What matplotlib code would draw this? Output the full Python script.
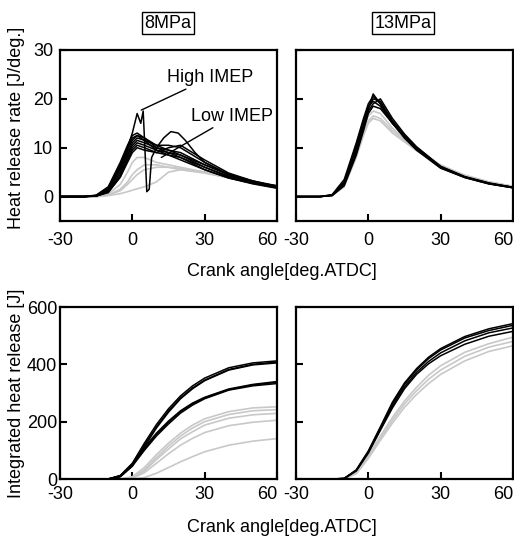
import matplotlib.pyplot as plt
import numpy as np

plt.rcParams['font.family'] = ['Liberation Sans', 'DejaVu Sans']
plt.rcParams['font.size'] = 13
plt.rcParams['axes.unicode_minus'] = False

# crank angle grids
ca_hrr = [-30, -20, -15, -10, -5, -2, 0, 2, 5, 10, 15, 20, 30, 40, 50, 60]
ca_ihr = [-30, -15, -10, -5, 0, 5, 10, 15, 20, 25, 30, 40, 50, 60]
xtick_vals = [-30, 0, 30, 60]
xtick_labels = ['-30', '0', '30', '60']

# 8MPa heat release rate
hrr8_black = [
    [0, 0, 0.2, 1.5, 6.0, 9.5, 11.5, 12.5, 12.0, 10.5, 9.5, 8.5, 6.0, 4.0, 2.8, 2.0],
    [0, 0, 0.3, 2.0, 7.0, 10.5, 12.5, 13.0, 12.0, 10.0, 9.0, 8.0, 5.5, 3.8, 2.7, 1.8],
    [0, 0, 0.2, 1.2, 5.0, 8.5, 10.5, 11.5, 11.0, 10.0, 9.5, 9.0, 6.5, 4.5, 3.0, 2.2],
    [0, 0, 0.1, 1.0, 4.5, 8.0, 10.0, 11.0, 10.5, 9.5, 9.0, 8.5, 6.5, 4.5, 3.2, 2.0],
    [0, 0, 0.2, 1.8, 6.5, 10.0, 12.0, 12.5, 11.5, 9.5, 8.5, 7.5, 5.5, 3.8, 2.6, 1.7],
    [0, 0, 0.1, 0.8, 4.0, 7.5, 9.5, 10.5, 10.0, 9.0, 8.5, 8.0, 6.0, 4.2, 3.0, 2.1],
    [0, 0, 0.2, 1.4, 5.5, 9.0, 11.0, 12.0, 11.5, 10.5, 10.5, 10.0, 7.0, 4.5, 3.0, 2.0],
    [0, 0, 0.1, 1.0, 4.0, 7.0, 9.0, 10.0, 9.5, 9.0, 10.0, 10.5, 7.5, 4.8, 3.2, 2.2],
]
hrr8_grey = [
    [0, 0, 0, 0.5, 2.5, 5.0, 7.0, 8.0, 8.0, 7.0, 6.5, 6.0, 5.0, 4.0, 3.0, 2.0],
    [0, 0, 0, 0.3, 1.5, 3.0, 4.5, 5.5, 6.5, 6.5, 6.0, 5.5, 4.8, 3.8, 2.8, 2.0],
    [0, 0, 0, 0.2, 0.6, 1.0, 1.3, 1.6, 2.0, 3.0, 5.0, 5.5, 5.0, 4.0, 3.0, 2.0],
    [0, 0, 0, 0.3, 1.2, 2.5, 3.5, 4.5, 5.5, 6.0, 6.0, 5.8, 5.0, 4.0, 3.0, 2.1],
]
ca_spike = [-30, -20, -15, -10, -5, -2, 0, 2, 3.5, 4.5, 5.2, 6, 7, 8, 10, 13, 16, 19, 22, 26, 30, 40, 50, 60]
hrr_spike = [0, 0, 0.2, 1.5, 6, 10, 13, 17, 15, 17.5, 10, 1, 1.5, 8, 10, 12, 13.3, 13, 11.5, 9, 7, 4.5, 3, 2]

# 13MPa heat release rate
hrr13_black = [
    [0, 0, 0.3, 3.0, 10.0, 15.0, 18.0, 20.0, 19.5, 15.5, 12.5, 10.0, 6.0, 4.0, 2.7, 1.9],
    [0, 0, 0.4, 3.5, 11.0, 16.0, 19.0, 20.5, 19.0, 15.0, 12.0, 9.5, 5.8, 3.9, 2.6, 1.8],
    [0, 0, 0.2, 2.5, 9.0, 14.0, 17.5, 19.0, 20.0, 16.0, 12.8, 10.2, 6.2, 4.1, 2.8, 1.9],
    [0, 0, 0.3, 3.0, 10.5, 15.5, 18.5, 19.5, 18.5, 15.0, 12.2, 9.8, 6.0, 4.0, 2.7, 1.8],
    [0, 0, 0.3, 2.8, 9.5, 14.5, 18.0, 21.0, 19.0, 15.5, 12.0, 9.6, 5.9, 3.9, 2.6, 1.8],
    [0, 0, 0.2, 2.2, 8.5, 13.5, 17.0, 18.5, 18.0, 15.0, 12.5, 10.0, 6.1, 4.0, 2.7, 1.9],
]
hrr13_grey = [
    [0, 0, 0.2, 2.5, 9.0, 13.0, 15.5, 16.5, 16.0, 13.5, 11.5, 9.5, 6.5, 4.3, 3.0, 2.1],
    [0, 0, 0.2, 2.0, 8.0, 12.5, 15.0, 16.0, 15.5, 13.0, 11.2, 9.4, 6.3, 4.4, 3.0, 2.1],
    [0, 0, 0.3, 2.8, 9.5, 14.0, 16.5, 17.5, 17.0, 14.0, 11.8, 9.8, 6.0, 4.2, 2.9, 2.0],
]

# 8MPa integrated heat release
ihr8_black = [
    [0, 0, 0, 12, 55, 125, 190, 245, 290, 325, 352, 388, 405, 412],
    [0, 0, 0, 10, 50, 118, 182, 238, 283, 318, 345, 382, 400, 408],
    [0, 0, 0, 8, 45, 112, 178, 233, 280, 315, 343, 380, 398, 405],
    [0, 0, 0, 10, 48, 105, 155, 198, 235, 262, 283, 312, 328, 337],
    [0, 0, 0, 12, 52, 110, 160, 202, 238, 265, 285, 314, 330, 340],
    [0, 0, 0, 8, 45, 100, 150, 192, 230, 258, 280, 310, 325, 333],
]
ihr8_grey = [
    [0, 0, 0, 0, 8, 40, 85, 125, 160, 188, 210, 235, 248, 252],
    [0, 0, 0, 0, 5, 32, 75, 115, 150, 178, 200, 225, 238, 242],
    [0, 0, 0, 0, 3, 28, 68, 105, 140, 165, 188, 212, 224, 229],
    [0, 0, 0, 0, 2, 22, 55, 88, 118, 142, 162, 186, 198, 205],
    [0, 0, 0, 0, 0, 5, 20, 40, 60, 78, 95, 118, 132, 141],
]

# 13MPa integrated heat release
ihr13_black = [
    [0, 0, 2, 32, 98, 182, 268, 335, 385, 425, 455, 497, 524, 542],
    [0, 0, 2, 30, 95, 178, 262, 330, 380, 420, 450, 492, 518, 536],
    [0, 0, 1, 28, 90, 170, 248, 315, 365, 402, 430, 470, 498, 515],
    [0, 0, 2, 30, 94, 175, 255, 322, 372, 410, 440, 482, 510, 527],
]
ihr13_grey = [
    [0, 0, 1, 22, 80, 150, 215, 272, 320, 362, 395, 442, 472, 495],
    [0, 0, 1, 20, 75, 142, 205, 262, 308, 348, 380, 428, 460, 480],
    [0, 0, 1, 18, 72, 135, 195, 250, 295, 333, 365, 412, 445, 465],
]

grey = '#c8c8c8'

W, H = 514, 538
fig = plt.figure(figsize=(W / 100, H / 100), dpi=100)


def box(l, t, r, b):
    return [l / W, 1 - b / H, (r - l) / W, (b - t) / H]


ax1 = fig.add_axes(box(60, 50, 277, 221))
ax2 = fig.add_axes(box(296, 50, 513, 221))
ax3 = fig.add_axes(box(60, 307, 277, 479))
ax4 = fig.add_axes(box(296, 307, 513, 479))

for ax, blk, gry in [(ax1, hrr8_black, hrr8_grey), (ax2, hrr13_black, hrr13_grey)]:
    for c in gry:
        ax.plot(ca_hrr, c, color=grey, lw=1.2)
    for c in blk:
        ax.plot(ca_hrr, c, color='black', lw=1.1)
    ax.set_ylim(-5, 30)
    ax.set_yticks([0, 10, 20, 30])
    ax.tick_params(axis='x', pad=8)
ax1.plot(ca_spike, hrr_spike, color='black', lw=1.1)

for ax, blk, gry in [(ax3, ihr8_black, ihr8_grey), (ax4, ihr13_black, ihr13_grey)]:
    for c in gry:
        ax.plot(ca_ihr, c, color=grey, lw=1.2)
    for c in blk:
        ax.plot(ca_ihr, c, color='black', lw=1.1)
    ax.set_ylim(0, 600)
    ax.set_yticks([0, 200, 400, 600])
    ax.tick_params(axis='x', pad=5)
    ax.tick_params(axis='y', pad=2)

for ax in [ax1, ax2, ax3, ax4]:
    ax.set_xlim(-30, 60)
    ax.set_xticks(xtick_vals, xtick_labels)
    ax.get_xticklabels()[-1].set_ha('right')
    ax.tick_params(direction='in', length=5, width=1.5, labelsize=13)
    for s in ax.spines.values():
        s.set_linewidth(1.6)
for ax in [ax2, ax4]:
    ax.tick_params(labelleft=False)
ax1.tick_params(axis='y', pad=5)

# annotations
ax1.annotate('High IMEP', xy=(3.7, 17.7), xytext=(14.3, 24.3),
             ha='left', va='center', fontsize=13,
             arrowprops=dict(arrowstyle='-', color='black', lw=1.0, shrinkA=0, shrinkB=0))
ax1.annotate('Low IMEP', xy=(12, 8), xytext=(24.5, 16.4),
             ha='left', va='center', fontsize=13,
             arrowprops=dict(arrowstyle='-', color='black', lw=1.0, shrinkA=0, shrinkB=0))

# panel titles
for x, t in [(168, '8MPa'), (403, '13MPa')]:
    fig.text(x / W, 1 - 23 / H, t, ha='center', va='center', fontsize=13,
             bbox=dict(boxstyle='square,pad=0.12', fc='white', ec='black', lw=1.0))

fig.text(282 / W, 1 - 271 / H, 'Crank angle[deg.ATDC]', ha='center', va='center', fontsize=13)
fig.text(282 / W, 1 - 527 / H, 'Crank angle[deg.ATDC]', ha='center', va='center', fontsize=13)
fig.text(17 / W, 1 - 128 / H, 'Heat release rate [J/deg.]', rotation=90,
         ha='center', va='center', fontsize=13)
fig.text(17 / W, 1 - 393 / H, 'Integrated heat release [J]', rotation=90,
         ha='center', va='center', fontsize=13)

fig.savefig('out.png', dpi=100)
